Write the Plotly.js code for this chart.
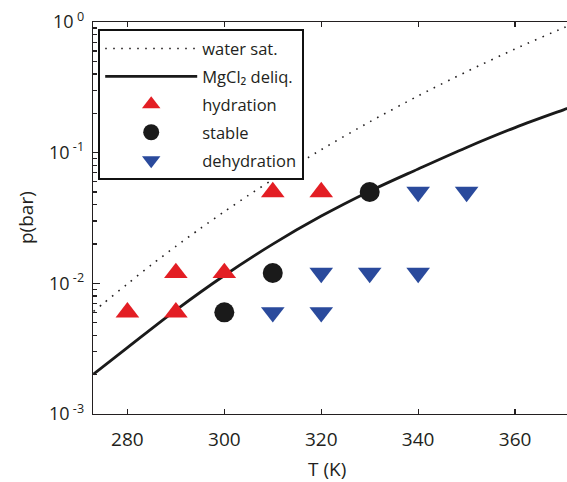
<!DOCTYPE html>
<html>
<head>
<meta charset="utf-8">
<script src="https://cdn.plot.ly/plotly-3.0.1.min.js"></script>
<style>
  html, body { margin: 0; padding: 0; overflow: hidden; background: #fff; }
  #chart { width: 620px; height: 482px; }
</style>
</head>
<body>
<div id="chart"></div>
<script>
// Water saturation curve (dotted)
const waterT = [273, 275, 280, 285, 290, 295, 300, 305, 310, 320, 330, 340, 350, 360, 370, 373];
const waterP = [0.0061, 0.0070, 0.0099, 0.0139, 0.0192, 0.0262, 0.0354, 0.0472, 0.0623, 0.1055, 0.172, 0.272, 0.417, 0.622, 0.902, 0.997];

// MgCl2 deliquescence curve (solid)
const deliqT = [273, 280, 290, 300, 310, 320, 330, 340, 350, 360, 370, 373];
const deliqP = [0.00202, 0.00322, 0.00624, 0.01148, 0.01995, 0.0327, 0.0507, 0.075, 0.1096, 0.1556, 0.2128, 0.233];

// Experimental points
const hydrT = [280, 290, 290, 300, 310, 320];
const hydrP = [0.006, 0.006, 0.012, 0.012, 0.05, 0.05];
const stabT = [300, 310, 330];
const stabP = [0.006, 0.012, 0.05];
const dehyT = [310, 320, 320, 330, 340, 340, 350];
const dehyP = [0.006, 0.006, 0.012, 0.012, 0.012, 0.05, 0.05];

const yTickVals = [0.001, 0.01, 0.1, 1];
const yTickText = ['10<sup> -3</sup>', '10<sup> -2</sup>', '10<sup> -1</sup>', '10<sup> 0</sup>'];

const FONT = 'Open Sans, sans-serif';
const INK = '#231f20';

const traces = [
  { x: waterT, y: waterP, mode: 'lines', name: 'water sat.', legendgroup: 'a',
    line: { color: INK, width: 1.6, dash: '1.6px,6.4px', shape: 'spline', smoothing: 0.8 } },
  { x: deliqT, y: deliqP, mode: 'lines', name: 'MgCl₂ deliq.', legendgroup: 'b',
    line: { color: '#1a1a1a', width: 2.8, shape: 'spline', smoothing: 1 } },
  { x: hydrT, y: hydrP, mode: 'markers', name: 'hydration', legendgroup: 'c',
    marker: { symbol: 'triangle-up', size: 20.5, color: '#e31e24' } },
  { x: stabT, y: stabP, mode: 'markers', name: 'stable', legendgroup: 'd',
    marker: { symbol: 'circle', size: 20, color: '#1a1a1a' } },
  { x: dehyT, y: dehyP, mode: 'markers', name: 'dehydration', legendgroup: 'e',
    marker: { symbol: 'triangle-down', size: 20.5, color: '#2a4a9c' } }
];

const W = 519, H = 392;
const layout = {
  width: 620, height: 482,
  margin: { l: 93, r: 8, t: 22, b: 68 },
  paper_bgcolor: '#fff', plot_bgcolor: '#fff',
  font: { family: FONT, color: INK, size: 18 },
  showlegend: true,
  legend: {
    x: 5 / W, y: 1 - 7 / H, xanchor: 'left', yanchor: 'top',
    bgcolor: '#fff', bordercolor: '#111', borderwidth: 2.2,
    font: { family: FONT, size: 16.5, color: INK },
    itemwidth: 92, tracegroupgap: 3.5, traceorder: 'grouped'
  },
  xaxis: {
    range: [272.9, 380], dtick: 20, tick0: 280,
    showgrid: false, zeroline: false,
    showline: true, linecolor: INK, linewidth: 1.3, mirror: 'ticks',
    ticks: 'inside', ticklen: 5, tickwidth: 1.3, tickcolor: INK,
    ticklabelstandoff: 8,
    tickfont: { family: FONT, size: 19, color: INK }
  },
  yaxis: {
    type: 'log', range: [-3, 0],
    tickmode: 'array', tickvals: yTickVals, ticktext: yTickText,
    showgrid: false, zeroline: false,
    showline: true, linecolor: INK, linewidth: 1.3, mirror: 'ticks',
    ticks: 'inside', ticklen: 7, tickwidth: 1.3, tickcolor: INK,
    ticklabelstandoff: 4,
    tickfont: { family: FONT, size: 18, color: INK },
    minor: { ticks: 'inside', ticklen: 4, tickwidth: 1.1, tickcolor: INK, dtick: 'D1', showgrid: false }
  },
  annotations: [
    { text: 'T (K)', xref: 'paper', yref: 'paper', x: (327 - 93) / W, y: 0,
      yshift: -55, xanchor: 'center', yanchor: 'middle', showarrow: false, borderpad: 0,
      font: { family: FONT, size: 19, color: INK } },
    { text: 'p(bar)', xref: 'paper', yref: 'paper', x: 0, y: 0.5,
      xshift: -67, xanchor: 'center', yanchor: 'middle', textangle: -90, showarrow: false,
      font: { family: FONT, size: 19, color: INK } }
  ]
};

Plotly.newPlot('chart', traces, layout, { staticPlot: true, displayModeBar: false });
</script>
</body>
</html>
